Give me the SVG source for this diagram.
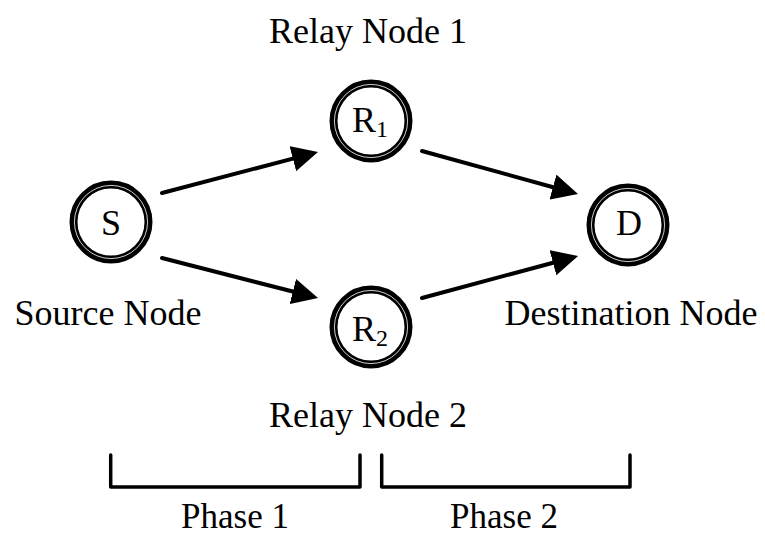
<svg xmlns="http://www.w3.org/2000/svg" width="765" height="536" viewBox="0 0 765 536">
<style>
text{font-family:"Liberation Serif","Times New Roman",serif;fill:#000}
.lbl{font-size:36px;text-anchor:middle}
.ph{font-size:35px;text-anchor:middle}
.ring{fill:none;stroke:#000;stroke-width:8}
.gap{fill:none;stroke:#fff;stroke-width:0.8}
.edge{stroke:#000;stroke-width:4;stroke-linecap:round;fill:none}
.brk{stroke:#000;stroke-width:3.5;stroke-linecap:round;stroke-linejoin:round;fill:none}
</style>
<defs>
<marker id="ah" viewBox="0 0 26 26" refX="4" refY="13" markerWidth="26" markerHeight="26" markerUnits="userSpaceOnUse" orient="auto">
<path d="M0,0 L26,13 L0,26 z" fill="#000"/>
</marker>
</defs>
<rect width="765" height="536" fill="#fff"/>
<g id="connectors">
<line class="edge" x1="162" y1="193" x2="296.7" y2="157.6" marker-end="url(#ah)"/>
<line class="edge" x1="162" y1="258" x2="296.7" y2="292.5" marker-end="url(#ah)"/>
<line class="edge" x1="422" y1="151" x2="556.8" y2="188.2" marker-end="url(#ah)"/>
<line class="edge" x1="422" y1="298" x2="556.8" y2="261.7" marker-end="url(#ah)"/>
</g>
<g id="node-S">
<circle class="ring" cx="111" cy="222" r="37.5"/>
<circle class="gap" cx="111" cy="222" r="36.6"/>
<text class="lbl" x="111" y="235">S</text>
<text class="lbl" x="108" y="325">Source Node</text>
</g>
<g id="node-R1">
<circle class="ring" cx="371" cy="121" r="37.5"/>
<circle class="gap" cx="371" cy="121" r="36.6"/>
<text x="352" y="132" style="font-size:36px">R<tspan dy="5" style="font-size:24px">1</tspan></text>
<text class="lbl" x="368" y="43">Relay Node 1</text>
</g>
<g id="node-R2">
<circle class="ring" cx="371" cy="327" r="37.5"/>
<circle class="gap" cx="371" cy="327" r="36.6"/>
<text x="352" y="341" style="font-size:36px">R<tspan dy="5" style="font-size:24px">2</tspan></text>
<text class="lbl" x="368" y="427">Relay Node 2</text>
</g>
<g id="node-D">
<circle class="ring" cx="628" cy="225" r="37.5"/>
<circle class="gap" cx="628" cy="225" r="36.6"/>
<text class="lbl" x="629" y="235">D</text>
<text class="lbl" x="631" y="325">Destination Node</text>
</g>
<g id="phase1">
<path class="brk" d="M110.7,455 V487 H360 V455"/>
<text class="ph" x="235" y="528">Phase 1</text>
</g>
<g id="phase2">
<path class="brk" d="M381.7,455 V487 H630 V455"/>
<text class="ph" x="504" y="528">Phase 2</text>
</g>
</svg>
